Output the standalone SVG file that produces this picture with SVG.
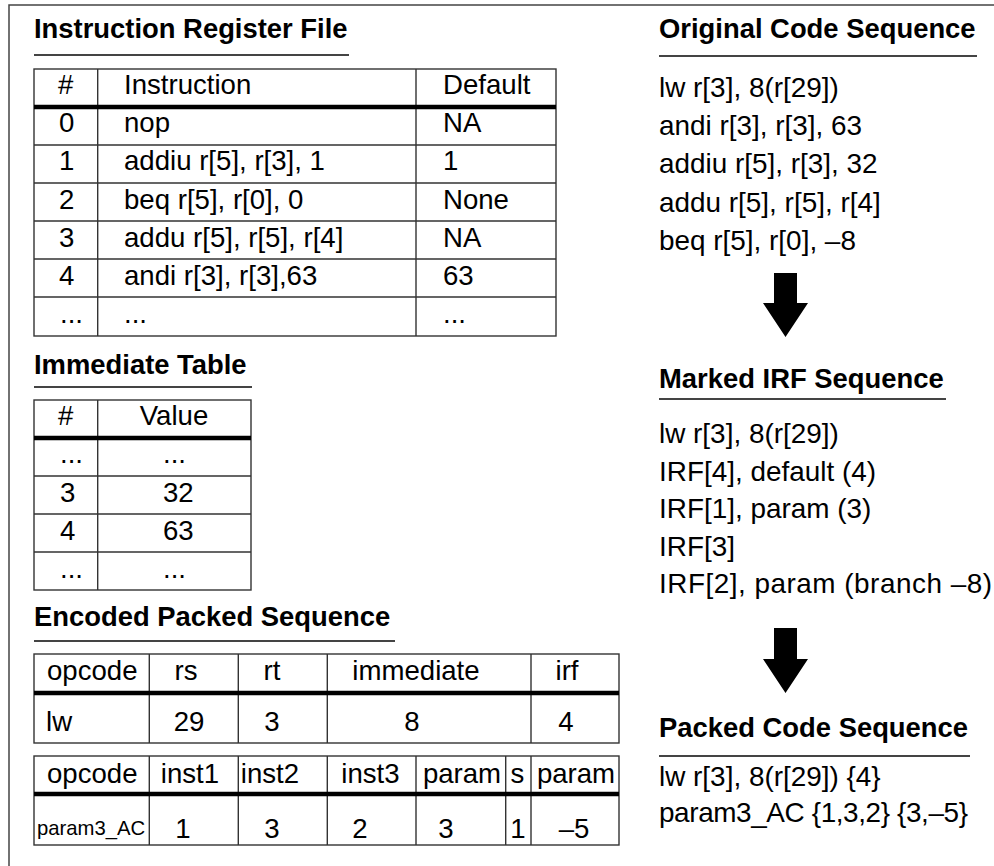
<svg xmlns="http://www.w3.org/2000/svg" width="994" height="866" viewBox="0 0 994 866">
<defs>
<style>
text{font-family:"Liberation Sans",Arial,sans-serif;font-size:27.6px;fill:#000}
.t{font-weight:bold;font-size:27.4px}
.b{font-size:27.9px}
.m{text-anchor:middle}
.sm{font-size:20.3px}
.ul{stroke:#444;stroke-width:2;fill:none}
.cell{stroke:#333;stroke-width:1.4;fill:#fff}
.ln{stroke:#333;stroke-width:1.4;fill:none}
.thick{stroke:#000;stroke-width:4.5;fill:none}
.frame{stroke:#444;stroke-width:1.5;fill:none}
.arr{fill:#000;stroke:none}
</style>
</defs>
<rect width="994" height="866" fill="#fff"/>
<path class="frame" d="M9,866 V5 H994"/>

<g id="irf-table">
<text class="t" x="34" y="38">Instruction Register File</text>
<line class="ul" x1="34" y1="55" x2="349" y2="55"/>
<rect class="cell" x="34" y="69" width="522" height="267"/>
<path class="ln" d="M97.7,69 V336 M416,69 V336 M34,145 H556 M34,183 H556 M34,221 H556 M34,259 H556 M34,297 H556"/>
<line class="thick" x1="34" y1="107" x2="556" y2="107"/>
<text x="58" y="94">#</text><text x="124" y="94">Instruction</text><text x="443" y="94">Default</text>
<text x="59" y="132">0</text><text x="124" y="132">nop</text><text x="443" y="132">NA</text>
<text x="59" y="170">1</text><text x="124" y="170">addiu r[5], r[3], 1</text><text x="443" y="170">1</text>
<text x="59" y="209">2</text><text x="124" y="209">beq r[5], r[0], 0</text><text x="443" y="209">None</text>
<text x="59" y="247">3</text><text x="124" y="247">addu r[5], r[5], r[4]</text><text x="443" y="247">NA</text>
<text x="59" y="285">4</text><text x="124" y="285">andi r[3], r[3],63</text><text x="443" y="285">63</text>
<text x="60" y="323">...</text><text x="124" y="323">...</text><text x="443" y="323">...</text>
</g>

<g id="immediate-table">
<text class="t" x="34" y="374">Immediate Table</text>
<line class="ul" x1="34" y1="387" x2="252" y2="387"/>
<rect class="cell" x="34" y="400" width="217" height="190"/>
<path class="ln" d="M97.7,400 V590 M34,476 H251 M34,514 H251 M34,552 H251"/>
<line class="thick" x1="34" y1="438" x2="251" y2="438"/>
<text x="58" y="425">#</text><text class="m" x="174" y="425">Value</text>
<text x="60" y="463">...</text><text x="163" y="463">...</text>
<text x="60" y="502">3</text><text x="163" y="502">32</text>
<text x="60" y="540">4</text><text x="163" y="540">63</text>
<text x="60" y="578">...</text><text x="163" y="578">...</text>
</g>

<g id="encoded-packed-sequence">
<text class="t" x="34" y="626">Encoded Packed Sequence</text>
<line class="ul" x1="34" y1="641" x2="395" y2="641"/>
<rect class="cell" x="34" y="654" width="585" height="89"/>
<path class="ln" d="M149.3,654 V743 M238.3,654 V743 M327.3,654 V743 M531,654 V743"/>
<line class="thick" x1="34" y1="693" x2="619" y2="693"/>
<text x="47" y="680">opcode</text><text class="m" x="186" y="680">rs</text><text class="m" x="272" y="680">rt</text><text class="m" x="416" y="680">immediate</text><text class="m" x="567" y="680">irf</text>
<text x="46" y="731">lw</text><text class="m" x="189" y="731">29</text><text class="m" x="272" y="731">3</text><text class="m" x="412" y="731">8</text><text class="m" x="566" y="731">4</text>
<rect class="cell" x="34" y="756" width="585" height="89"/>
<path class="ln" d="M149.3,756 V845 M238.3,756 V845 M327.3,756 V845 M416,756 V845 M505.7,756 V845 M531,756 V845"/>
<line class="thick" x1="34" y1="794" x2="619" y2="794"/>
<text x="47" y="783">opcode</text><text class="m" x="190" y="783">inst1</text><text class="m" x="270" y="783">inst2</text><text class="m" x="370.5" y="783">inst3</text><text class="m" x="462" y="783">param</text><text class="m" x="517.5" y="783">s</text><text class="m" x="576" y="783">param</text>
<text class="sm" x="37" y="835">param3_AC</text><text class="m" x="183" y="838">1</text><text class="m" x="272" y="838">3</text><text class="m" x="360" y="838">2</text><text class="m" x="446" y="838">3</text><text class="m" x="518" y="838">1</text><text class="m" x="574" y="838">–5</text>
</g>

<g id="original-code-sequence">
<text class="t" x="659" y="38">Original Code Sequence</text>
<line class="ul" x1="659" y1="56" x2="977" y2="56"/>
<text class="b" x="659" y="97">lw r[3], 8(r[29])</text>
<text class="b" x="659" y="135">andi r[3], r[3], 63</text>
<text class="b" x="659" y="173">addiu r[5], r[3], 32</text>
<text class="b" x="659" y="212">addu r[5], r[5], r[4]</text>
<text class="b" x="659" y="250">beq r[5], r[0], –8</text>
</g>

<g id="marked-irf-sequence">
<text class="t" x="659" y="388">Marked IRF Sequence</text>
<line class="ul" x1="659" y1="399" x2="946" y2="399"/>
<text class="b" x="659" y="443">lw r[3], 8(r[29])</text>
<text class="b" x="659" y="480.5">IRF[4], default (4)</text>
<text class="b" x="659" y="518">IRF[1], param (3)</text>
<text class="b" x="659" y="555.5">IRF[3]</text>
<text class="b" x="659" y="593" textLength="333">IRF[2], param (branch –8)</text>
</g>

<g id="packed-code-sequence">
<text class="t" x="659" y="737">Packed Code Sequence</text>
<line class="ul" x1="659" y1="756" x2="970" y2="756"/>
<text class="b" x="659" y="786">lw r[3], 8(r[29]) {4}</text>
<text class="b" x="659" y="822" textLength="309">param3_AC {1,3,2} {3,–5}</text>
</g>

<g id="connectors">
<path class="arr" d="M774,273 H797 V303 H808 L785.5,337 L763,303 H774 Z"/>
<path class="arr" d="M774,628 H797 V659 H808 L785.5,693 L763,659 H774 Z"/>
</g>
</svg>
